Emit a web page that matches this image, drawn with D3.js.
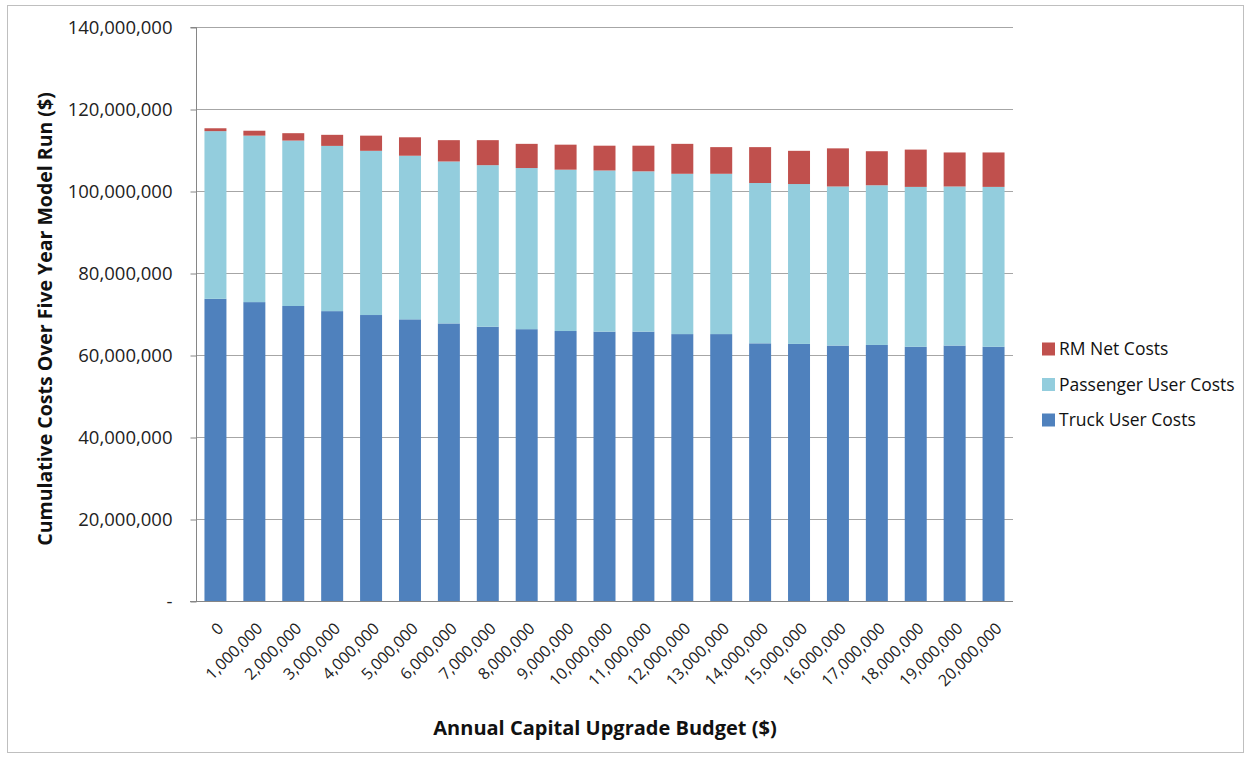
<!DOCTYPE html>
<html>
<head>
<meta charset="utf-8">
<script src="https://cdn.jsdelivr.net/npm/d3@7"></script>
<style>
  body { margin: 0; background: #fff; }
  svg { display: block; font-family: "Open Sans", sans-serif; }
</style>
</head>
<body>
<svg id="chart" width="1250" height="758"></svg>
<script>
// Annual capital upgrade budgets ($)
const budgets = [0, 1e6, 2e6, 3e6, 4e6, 5e6, 6e6, 7e6, 8e6, 9e6, 10e6,
                 11e6, 12e6, 13e6, 14e6, 15e6, 16e6, 17e6, 18e6, 19e6, 20e6];

// Cumulative costs over the five-year run, in millions of dollars
const truckUserCosts = [73.7, 72.9, 71.95, 70.7, 69.75, 68.7, 67.7, 66.9, 66.3, 65.85, 65.7,
                        65.7, 65.1, 65.1, 62.85, 62.7, 62.3, 62.45, 62.0, 62.3, 62.0];
const passengerUserCosts = [40.9, 40.6, 40.35, 40.3, 40.05, 39.9, 39.5, 39.4, 39.3, 39.35, 39.3,
                            39.1, 39.1, 39.1, 39.1, 39.0, 38.8, 38.95, 39.0, 38.8, 39.0];
const rmNetCosts = [0.7, 1.2, 1.8, 2.7, 3.7, 4.5, 5.2, 6.1, 5.9, 6.1, 6.05,
                    6.25, 7.3, 6.5, 8.75, 8.1, 9.3, 8.3, 9.1, 8.3, 8.4];

const seriesNames = ["Truck User Costs", "Passenger User Costs", "RM Net Costs"];
const seriesColors = ["#4F81BD", "#93CDDD", "#C0504D"];
const yTicks = [0, 20e6, 40e6, 60e6, 80e6, 100e6, 120e6, 140e6];

const rows = budgets.map((b, i) => ({
  budget: b,
  "Truck User Costs": truckUserCosts[i] * 1e6,
  "Passenger User Costs": passengerUserCosts[i] * 1e6,
  "RM Net Costs": rmNetCosts[i] * 1e6
}));

const svg = d3.select("#chart");
const plot = { left: 196, right: 1013, top: 27, bottom: 601 };

// outer frame
svg.append("rect")
  .attr("x", 7.5).attr("y", 5.5).attr("width", 1236).attr("height", 747)
  .attr("fill", "none").attr("stroke", "#bfbfbf").attr("stroke-width", 1);

const x = d3.scaleBand()
  .domain(budgets)
  .range([plot.left, plot.right])
  .paddingInner(0.435)
  .paddingOuter(0.2175);

const y = d3.scaleLinear()
  .domain([0, 140e6])
  .range([plot.bottom, plot.top]);

const fmt = d3.format(",");

// horizontal gridlines
svg.append("g")
  .selectAll("line")
  .data(yTicks.filter(t => t > 0))
  .join("line")
  .attr("x1", plot.left).attr("x2", plot.right)
  .attr("y1", d => Math.round(y(d)) + 0.5).attr("y2", d => Math.round(y(d)) + 0.5)
  .attr("stroke", "#a6a6a6").attr("stroke-width", 1);

// stacked bars
const stack = d3.stack().keys(seriesNames)(rows);
svg.append("g")
  .selectAll("g")
  .data(stack)
  .join("g")
  .attr("fill", (d, i) => seriesColors[i])
  .selectAll("rect")
  .data(d => d)
  .join("rect")
  .attr("x", d => x(d.data.budget))
  .attr("width", x.bandwidth())
  .attr("y", d => y(d[1]))
  .attr("height", d => y(d[0]) - y(d[1]));

// y axis
const yAxis = d3.axisLeft(y)
  .tickValues(yTicks)
  .tickSize(6)
  .tickPadding(18)
  .tickFormat(d => d === 0 ? "-" : fmt(d));
const gy = svg.append("g")
  .attr("transform", `translate(${plot.left + 0.5},0.5)`)
  .call(yAxis);
gy.select(".domain").attr("stroke", "#868686").attr("d", `M-6,${plot.top}H0V${plot.bottom}`);
gy.selectAll(".tick line").attr("stroke", "#868686");
gy.selectAll(".tick text")
  .attr("fill", "#222").attr("font-size", 18.5)
  .attr("font-family", "'Open Sans', sans-serif");

// x axis
const xAxis = d3.axisBottom(x).tickSize(0).tickFormat(d => fmt(d));
const gx = svg.append("g")
  .attr("transform", `translate(0,${plot.bottom + 0.5})`)
  .call(xAxis);
gx.select(".domain").attr("stroke", "#868686").attr("d", `M${plot.left - 6},0H${plot.right}`);
gx.selectAll(".tick text")
  .attr("fill", "#222").attr("font-size", 16)
  .attr("font-family", "'Open Sans', sans-serif")
  .attr("text-anchor", "end")
  .attr("dy", "0.35em")
  .attr("transform", "translate(3,22) rotate(-45)");

// axis titles
svg.append("text")
  .attr("transform", "translate(52,319) rotate(-90)")
  .attr("text-anchor", "middle")
  .attr("font-size", 19.5).attr("font-weight", "bold").attr("fill", "#111")
  .text("Cumulative Costs Over Five Year Model Run ($)");

svg.append("text")
  .attr("x", 605).attr("y", 735)
  .attr("text-anchor", "middle")
  .attr("font-size", 20).attr("font-weight", "bold").attr("fill", "#111")
  .text("Annual Capital Upgrade Budget ($)");

// legend, top entry is the top of the stack
const legendItems = seriesNames.map((n, i) => ({ name: n, color: seriesColors[i] })).reverse();
const legend = svg.append("g").attr("transform", "translate(1042,342.5)");
const li = legend.selectAll("g")
  .data(legendItems)
  .join("g")
  .attr("transform", (d, i) => `translate(0,${i * 35.5})`);
li.append("rect").attr("width", 13).attr("height", 13).attr("fill", d => d.color);
li.append("text")
  .attr("x", 17).attr("y", 6.5).attr("dy", "0.35em")
  .attr("font-size", 17.5).attr("fill", "#111")
  .text(d => d.name);
</script>
</body>
</html>
